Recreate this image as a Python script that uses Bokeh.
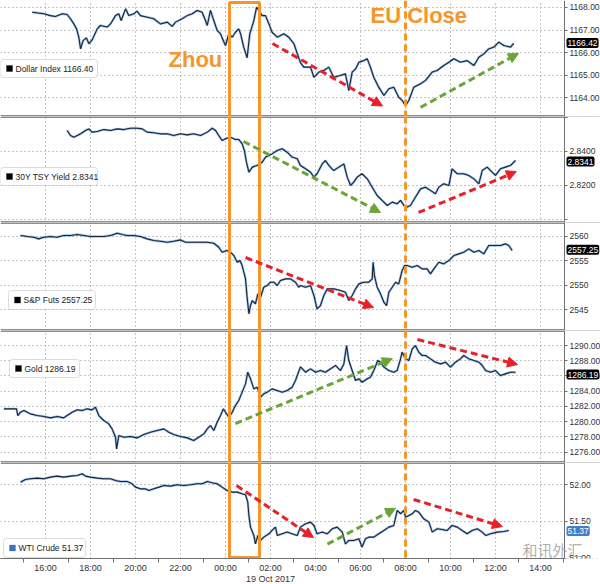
from bokeh.plotting import figure
from bokeh.layouts import column
from bokeh.models import (Range1d, FixedTicker, Span, Label, BoxAnnotation, Arrow,
                          NormalHead, NumeralTickFormatter, Grid)
from bokeh.embed import file_html
from bokeh.resources import INLINE

# ---------------- data (hours since 18 Oct 2017 00:00) ----------------
dxy_t = [15.41, 15.93, 16.22, 16.44, 16.74, 16.96, 17.11, 17.26, 17.38, 17.48, 17.56, 17.67, 17.82, 17.93,
         18.07, 18.30, 18.44, 18.74, 18.89, 19.11, 19.26, 19.36, 19.56, 19.70, 19.93, 20.07, 20.22, 20.52,
         20.81, 21.11, 21.41, 21.63, 21.78, 22.07, 22.30, 22.52, 22.74, 22.96, 23.11, 23.19, 23.33, 23.48,
         23.63, 23.78, 23.90, 24.00, 24.15, 24.30, 24.44, 24.59, 24.67, 24.81, 24.96, 25.08, 25.26, 25.38,
         25.48, 25.63, 25.78, 25.93, 26.07, 26.30, 26.59, 26.81, 27.04, 27.33, 27.48, 27.78, 27.93, 28.15,
         28.37, 28.59, 28.81, 29.11, 29.33, 29.48, 29.63, 29.78, 29.93, 30.15, 30.30, 30.44, 30.59, 30.81,
         31.04, 31.26, 31.48, 31.70, 31.85, 32.00, 32.15, 32.37, 32.67, 32.89, 33.19, 33.41, 33.70, 33.93,
         34.15, 34.44, 34.74, 35.04, 35.26, 35.48, 35.70, 35.93, 36.15, 36.37, 36.67, 36.81]
dxy_v = [1167.79, 1167.72, 1167.64, 1167.60, 1167.72, 1167.69, 1167.50, 1167.27, 1167.05, 1166.68, 1166.16,
         1166.53, 1166.65, 1166.39, 1166.56, 1167.05, 1167.20, 1167.13, 1167.27, 1167.64, 1167.72, 1167.42,
         1167.94, 1167.64, 1167.72, 1167.84, 1167.64, 1167.57, 1167.50, 1167.27, 1167.35, 1167.16, 1167.35,
         1167.50, 1167.64, 1167.72, 1167.87, 1167.79, 1167.42, 1167.20, 1167.87, 1167.42, 1166.98, 1166.83,
         1166.53, 1166.31, 1166.83, 1166.68, 1166.90, 1167.05, 1166.83, 1166.24, 1165.76, 1166.83, 1167.42,
         1168.01, 1167.87, 1167.64, 1167.64, 1167.27, 1166.90, 1166.68, 1166.83, 1166.68, 1166.39, 1165.55,
         1165.35, 1165.35, 1164.90, 1165.13, 1165.20, 1165.35, 1164.90, 1164.98, 1165.05, 1164.31, 1165.13,
         1165.27, 1165.57, 1165.64, 1165.72, 1165.35, 1164.90, 1164.46, 1164.09, 1164.39, 1164.46, 1164.01,
         1163.87, 1163.64, 1163.87, 1164.46, 1164.61, 1164.76, 1165.13, 1165.20, 1165.42, 1165.57, 1165.72,
         1165.57, 1165.64, 1165.42, 1165.79, 1165.94, 1166.16, 1166.24, 1166.46, 1166.31, 1166.24, 1166.41]

tsy_t = [16.96, 17.11, 17.26, 17.56, 17.78, 17.93, 18.07, 18.30, 18.59, 18.89, 19.19, 19.48, 19.78, 20.07,
         20.30, 20.52, 20.81, 21.11, 21.41, 21.70, 22.00, 22.30, 22.59, 22.89, 23.19, 23.41, 23.56, 23.70,
         23.85, 24.00, 24.22, 24.44, 24.59, 24.74, 24.84, 24.93, 25.04, 25.19, 25.41, 25.63, 25.78, 25.93,
         26.07, 26.30, 26.52, 26.74, 26.96, 27.19, 27.33, 27.56, 27.78, 27.93, 28.07, 28.30, 28.44, 28.59,
         28.81, 29.04, 29.26, 29.41, 29.56, 29.70, 29.85, 30.07, 30.30, 30.52, 30.74, 30.96, 31.19, 31.41,
         31.63, 31.78, 31.93, 32.07, 32.22, 32.44, 32.67, 32.89, 33.11, 33.33, 33.48, 33.70, 33.93, 34.07,
         34.30, 34.59, 34.81, 35.04, 35.26, 35.41, 35.63, 35.85, 36.00, 36.22, 36.44, 36.67, 36.89]
tsy_v = [2.8524, 2.8494, 2.8484, 2.8504, 2.8524, 2.8533, 2.8514, 2.8518, 2.8529, 2.8524, 2.8533, 2.8529,
         2.8537, 2.8537, 2.8533, 2.8514, 2.8510, 2.8504, 2.8504, 2.8494, 2.8504, 2.8498, 2.8504, 2.8494,
         2.8514, 2.8537, 2.8524, 2.8494, 2.8465, 2.8475, 2.8484, 2.8471, 2.8471, 2.8445, 2.8406, 2.8337,
         2.8278, 2.8308, 2.8318, 2.8337, 2.8367, 2.8376, 2.8386, 2.8406, 2.8416, 2.8396, 2.8367, 2.8357,
         2.8318, 2.8298, 2.8278, 2.8249, 2.8269, 2.8327, 2.8347, 2.8318, 2.8288, 2.8308, 2.8327, 2.8249,
         2.8200, 2.8220, 2.8249, 2.8269, 2.8239, 2.8190, 2.8141, 2.8112, 2.8082, 2.8102, 2.8092, 2.8112,
         2.8082, 2.8073, 2.8082, 2.8131, 2.8180, 2.8190, 2.8171, 2.8151, 2.8190, 2.8210, 2.8200, 2.8298,
         2.8269, 2.8269, 2.8259, 2.8239, 2.8210, 2.8288, 2.8308, 2.8278, 2.8259, 2.8298, 2.8308, 2.8318, 2.8347]

spx_t = [14.89, 15.19, 15.48, 15.70, 15.93, 16.22, 16.52, 16.81, 17.11, 17.41, 17.70, 18.00, 18.30, 18.59,
         18.89, 19.19, 19.41, 19.63, 19.93, 20.22, 20.52, 20.81, 21.11, 21.41, 21.70, 22.00, 22.22, 22.59,
         22.89, 23.19, 23.48, 23.70, 23.85, 24.07, 24.22, 24.37, 24.52, 24.64, 24.74, 24.89, 24.96, 25.04,
         25.11, 25.19, 25.33, 25.44, 25.56, 25.70, 25.85, 26.00, 26.15, 26.30, 26.44, 26.67, 26.89, 27.11,
         27.26, 27.33, 27.56, 27.78, 27.93, 28.07, 28.22, 28.37, 28.52, 28.81, 29.11, 29.33, 29.48, 29.63,
         29.78, 29.93, 30.15, 30.37, 30.52, 30.56, 30.62, 30.74, 30.89, 31.04, 31.16, 31.26, 31.41, 31.56,
         31.70, 31.85, 31.96, 32.07, 32.30, 32.52, 32.74, 32.96, 33.11, 33.26, 33.48, 33.70, 33.93, 34.15,
         34.37, 34.59, 34.81, 35.04, 35.26, 35.48, 35.70, 35.93, 36.22, 36.44, 36.59, 36.74]
spx_v = [2560.14, 2559.93, 2559.80, 2559.46, 2559.80, 2559.93, 2559.80, 2560.14, 2560.14, 2560.34, 2560.14,
         2559.93, 2559.93, 2559.93, 2560.14, 2560.61, 2560.34, 2560.14, 2560.14, 2559.93, 2559.46, 2559.12,
         2558.98, 2558.78, 2558.98, 2559.25, 2558.78, 2558.78, 2558.78, 2558.78, 2558.57, 2557.76, 2556.74,
         2557.08, 2556.74, 2556.06, 2554.70, 2555.04, 2554.03, 2551.31, 2547.58, 2544.18, 2545.88, 2546.90,
         2546.22, 2548.26, 2547.58, 2549.61, 2549.95, 2550.63, 2550.63, 2549.95, 2550.97, 2551.31, 2551.31,
         2550.63, 2549.61, 2549.95, 2549.61, 2549.95, 2547.92, 2545.20, 2545.88, 2547.92, 2549.27, 2549.27,
         2548.93, 2548.59, 2546.90, 2547.92, 2549.27, 2550.29, 2550.63, 2550.63, 2551.31, 2554.70, 2551.99,
         2549.61, 2548.26, 2546.56, 2545.88, 2548.59, 2549.61, 2550.63, 2550.29, 2553.01, 2554.03, 2554.03,
         2553.69, 2554.03, 2553.35, 2553.35, 2552.33, 2553.35, 2554.70, 2554.37, 2555.04, 2556.06, 2556.40,
         2556.74, 2557.42, 2556.74, 2557.08, 2556.40, 2558.10, 2558.10, 2558.10, 2558.44, 2558.10, 2557.08]

gold_t = [14.15, 14.71, 14.77, 14.89, 15.04, 15.19, 15.33, 15.63, 15.93, 16.22, 16.52, 16.81, 16.96, 17.19,
          17.41, 17.63, 17.85, 18.07, 18.22, 18.37, 18.59, 18.81, 18.96, 19.11, 19.16, 19.26, 19.48, 19.78,
          20.07, 20.37, 20.67, 20.96, 21.26, 21.48, 21.70, 22.00, 22.30, 22.59, 22.81, 23.04, 23.19, 23.33,
          23.48, 23.63, 23.78, 23.90, 24.00, 24.15, 24.30, 24.44, 24.59, 24.74, 24.89, 24.99, 25.11, 25.26,
          25.41, 25.56, 25.70, 25.85, 26.07, 26.30, 26.52, 26.74, 26.96, 27.11, 27.33, 27.56, 27.78, 28.00,
          28.22, 28.44, 28.67, 28.89, 29.11, 29.26, 29.38, 29.48, 29.63, 29.78, 29.93, 30.07, 30.30, 30.44,
          30.59, 30.77, 30.89, 31.04, 31.26, 31.48, 31.63, 31.78, 31.85, 32.00, 32.15, 32.30, 32.44, 32.59,
          32.74, 32.89, 33.11, 33.33, 33.56, 33.78, 34.00, 34.22, 34.44, 34.59, 34.81, 35.04, 35.26, 35.41,
          35.56, 35.78, 36.00, 36.22, 36.44, 36.67, 36.89]
gold_v = [1281.69, 1281.69, 1280.81, 1281.25, 1281.47, 1281.25, 1281.03, 1280.81, 1280.68, 1280.51, 1280.68,
          1280.51, 1280.81, 1281.25, 1281.56, 1281.47, 1281.69, 1281.56, 1281.91, 1280.81, 1280.16, 1279.72,
          1279.06, 1277.97, 1276.44, 1278.19, 1277.97, 1278.06, 1277.88, 1278.32, 1278.63, 1278.85, 1279.06,
          1278.63, 1278.32, 1278.06, 1277.88, 1277.53, 1277.97, 1278.41, 1279.06, 1279.50, 1278.85, 1279.94,
          1280.81, 1281.69, 1281.25, 1280.60, 1281.25, 1282.13, 1282.78, 1283.88, 1284.97, 1286.50, 1285.63,
          1284.31, 1284.53, 1283.22, 1283.66, 1283.88, 1284.31, 1284.09, 1283.88, 1284.09, 1284.53, 1285.41,
          1287.20, 1286.50, 1286.94, 1286.50, 1286.72, 1286.50, 1286.94, 1287.38, 1286.72, 1287.59, 1290.00,
          1288.03, 1286.72, 1285.41, 1285.63, 1285.19, 1285.63, 1285.84, 1286.72, 1288.03, 1287.81, 1287.16,
          1286.72, 1286.50, 1286.72, 1288.25, 1289.13, 1288.25, 1288.03, 1289.56, 1290.00, 1289.13, 1288.69,
          1288.69, 1288.25, 1287.81, 1287.59, 1287.81, 1287.16, 1287.81, 1288.25, 1288.69, 1288.25, 1288.03,
          1287.81, 1287.38, 1286.72, 1286.50, 1286.72, 1286.06, 1286.28, 1286.50, 1286.50]

wti_t = [14.89, 15.11, 15.33, 15.63, 15.93, 16.22, 16.52, 16.81, 17.11, 17.41, 17.63, 17.78, 18.00, 18.30,
         18.59, 18.89, 19.11, 19.33, 19.63, 19.85, 20.00, 20.22, 20.44, 20.59, 20.81, 21.04, 21.26, 21.56,
         21.85, 22.15, 22.44, 22.74, 22.96, 23.19, 23.41, 23.63, 23.85, 24.07, 24.30, 24.52, 24.74, 24.89,
         24.99, 25.04, 25.11, 25.26, 25.33, 25.44, 25.56, 25.70, 25.93, 26.07, 26.22, 26.30, 26.52, 26.74,
         26.96, 27.19, 27.33, 27.56, 27.78, 27.93, 28.07, 28.30, 28.52, 28.74, 28.96, 29.19, 29.33, 29.48,
         29.70, 29.93, 30.07, 30.22, 30.37, 30.59, 30.81, 31.04, 31.26, 31.48, 31.63, 31.78, 31.93, 32.00,
         32.15, 32.30, 32.44, 32.59, 32.81, 33.04, 33.19, 33.41, 33.63, 33.85, 34.07, 34.30, 34.52, 34.74,
         34.96, 35.19, 35.41, 35.56, 35.78, 36.07, 36.37, 36.59]
wti_v = [52.036, 52.073, 52.082, 52.091, 52.082, 52.105, 52.118, 52.105, 52.118, 52.127, 52.150, 52.118,
         52.105, 52.091, 52.082, 52.082, 52.059, 52.045, 52.045, 52.014, 51.968, 51.945, 51.945, 51.923,
         51.945, 51.968, 51.991, 51.982, 52.000, 51.991, 52.000, 52.014, 52.014, 52.045, 52.027, 52.014,
         51.968, 51.923, 51.900, 51.900, 51.877, 51.864, 51.764, 51.582, 51.423, 51.309, 51.195, 51.309,
         51.241, 51.286, 51.332, 51.377, 51.423, 51.309, 51.332, 51.355, 51.332, 51.309, 51.423, 51.468,
         51.491, 51.445, 51.332, 51.355, 51.332, 51.400, 51.423, 51.355, 51.195, 51.241, 51.241, 51.264,
         51.150, 51.264, 51.286, 51.286, 51.332, 51.377, 51.423, 51.445, 51.650, 51.605, 51.650, 51.559,
         51.582, 51.605, 51.650, 51.627, 51.536, 51.491, 51.355, 51.400, 51.391, 51.377, 51.445, 51.423,
         51.377, 51.332, 51.377, 51.400, 51.355, 51.309, 51.332, 51.355, 51.364, 51.377]

series_names = ["Dollar Index", "30Y TSY Yield", "S&P Futs", "Gold", "WTI Crude"]
legend_values = ["1166.40", "2.8341", "2557.25", "1286.19", "51.37"]
last_values = [1166.42, 2.8341, 2557.25, 1286.19, 51.37]
last_labels = ["1166.42", "2.8341", "2557.25", "1286.19", "51.37"]

x_tick_hours = [16, 18, 20, 22, 24, 26, 28, 30, 32, 34, 36, 38]
x_tick_labels = ["16:00", "18:00", "20:00", "22:00", "00:00", "02:00\n19 Oct 2017", "04:00", "06:00",
                 "08:00", "10:00", "12:00", "14:00"]
x_minor_hours = [15, 17, 19, 21, 23, 25, 27, 29, 31, 33, 35, 37, 39]

# ---------------- layout constants ----------------
FW = 600
PXH = 22.5
X0 = 14.0
X1 = X0 + FW / PXH
AX = X0 + 564 / PXH        # position of the value axis

ORANGE = "#f5952a"
RED = "#e8202a"
GREEN = "#6aa536"
FONT = "Liberation Sans"

P = [
    dict(t=dxy_t, v=dxy_v, y0=1163.156, y1=1168.311, top=0, fh=116,
         ticks=[1164, 1165, 1166, 1167, 1168], fmt="0.00", over={},
         leg=(0, 97, 59, 77), sq="black", tag="black"),
    dict(t=tsy_t, v=tsy_v, y0=2.7982, y1=2.8606, top=116, fh=106,
         ticks=[2.80, 2.82, 2.84, 2.86], fmt="0.0000", over={2.8: "", 2.86: ""},
         leg=(0, 97, 167, 185), sq="black", tag="black"),
    dict(t=spx_t, v=spx_v, y0=2540.80, y1=2562.79, top=222, fh=108,
         ticks=[2545, 2550, 2555, 2560], fmt="0", over={},
         leg=(8, 95, 290, 309), sq="black", tag="black"),
    dict(t=gold_t, v=gold_v, y0=1274.65, y1=1291.97, top=330, fh=132,
         ticks=[1276, 1278, 1280, 1282, 1284, 1286, 1288, 1290], fmt="0.00", over={},
         leg=(9, 79, 359, 377), sq="black", tag="black"),
    dict(t=wti_t, v=wti_v, y0=50.995, y1=52.304, top=462, fh=96,
         ticks=[51, 51.5, 52], fmt="0.00", over={},
         leg=(3, 85, 538, 557), sq="#3b73b9", tag="#3f7fc7"),
]


def xd(px):
    return X0 + px / PXH


def yd(k, py):
    c = P[k]
    return c["y1"] - (py - c["top"]) / c["fh"] * (c["y1"] - c["y0"])


ZL, ZR = xd(229), xd(259)
EU = 32.0

arrows = {
    0: [(26.09, 1166.40, 30.98, 1163.62, RED), (32.67, 1163.56, 37.02, 1165.96, GREEN)],
    1: [(24.80, 2.8459, 30.89, 2.8041, GREEN), (32.58, 2.8041, 36.93, 2.8282, RED)],
    2: [(24.89, 2555.66, 30.58, 2545.48, RED)],
    3: [(24.44, 1279.76, 31.42, 1288.29, GREEN), (32.53, 1290.79, 36.98, 1287.51, RED)],
    4: [(24.49, 51.99, 27.91, 51.28, RED), (28.53, 51.19, 31.56, 51.68, GREEN),
        (32.36, 51.80, 36.31, 51.43, RED)],
}

figs = []
for k, c in enumerate(P):
    bottom = (k == 4)
    p = figure(frame_width=FW, frame_height=c["fh"],
               x_range=Range1d(X0, X1), y_range=Range1d(c["y0"], c["y1"]),
               x_axis_location="below" if bottom else None, y_axis_location="right",
               toolbar_location=None, output_backend="svg",
               min_border_left=0, min_border_top=0, min_border_right=0,
               min_border_bottom=26 if bottom else 0)
    p.outline_line_color = None
    for g in p.grid:
        g.visible = False
    p.add_layout(Grid(dimension=0, ticker=FixedTicker(ticks=x_tick_hours),
                      grid_line_color="#8a8a8a", grid_line_dash="1 3", grid_line_width=1))
    p.add_layout(Grid(dimension=1, ticker=FixedTicker(ticks=c["ticks"]),
                      grid_line_color="#8a8a8a", grid_line_dash="1 3", grid_line_width=1))

    # panel separators
    if k < 4:
        p.add_layout(Span(location=c["y0"], dimension="width", line_color="#8c8c8c",
                          line_width=3, level="underlay"))
    if k > 0:
        p.add_layout(Span(location=c["y1"], dimension="width", line_color="#8c8c8c",
                          line_width=3, level="underlay"))
    # blank area right of the value axis
    p.add_layout(BoxAnnotation(left=AX, fill_color="white", fill_alpha=1, line_color=None,
                               level="underlay"))

    ya = p.yaxis[0]
    ya.fixed_location = AX
    ya.ticker = FixedTicker(ticks=c["ticks"])
    ya.formatter = NumeralTickFormatter(format=c["fmt"])
    if c["over"]:
        ya.major_label_overrides = c["over"]
    ya.major_label_text_font = FONT
    ya.major_label_text_font_size = "8.5px"
    ya.major_label_text_color = "#333333"
    ya.major_label_standoff = 2
    ya.major_tick_out = 3
    ya.major_tick_in = 0
    ya.minor_tick_line_color = None
    ya.axis_line_color = "#707070"
    ya.major_tick_line_color = "#707070"

    if bottom:
        xa = p.xaxis[0]
        xa.bounds = (X0, AX)
        xa.ticker = FixedTicker(ticks=x_tick_hours, minor_ticks=x_minor_hours)
        xa.major_label_overrides = dict(zip(x_tick_hours, x_tick_labels))
        xa.major_tick_line_color = None
        xa.major_tick_out = 0
        xa.major_tick_in = 0
        xa.minor_tick_out = 4
        xa.minor_tick_in = 0
        xa.minor_tick_line_color = "#707070"
        xa.axis_line_color = "#707070"
        xa.major_label_standoff = 0
        xa.major_label_text_font = FONT
        xa.major_label_text_font_size = "9px"
        xa.major_label_text_color = "#333333"
        xa.major_label_text_line_height = 1.1

    # series line
    p.line(c["t"], c["v"], line_color="#4a8ad0", line_width=2.4, line_alpha=0.55)
    p.line(c["t"], c["v"], line_color="#15273e", line_width=1.1)

    # Zhou box
    top = yd(0, 2) if k == 0 else c["y1"] + 100 * (c["y1"] - c["y0"])
    bot = yd(4, 557) if k == 4 else c["y0"] - 100 * (c["y1"] - c["y0"])
    p.quad(left=[ZL], right=[ZR], top=[top], bottom=[bot], fill_color=None,
           line_color=ORANGE, line_width=3)

    # EU close line
    p.add_layout(Span(location=EU, dimension="height", line_color=ORANGE,
                      line_width=3, line_dash="7 4"))

    # arrows
    for (xs, ys, xe, ye, col) in arrows[k]:
        p.add_layout(Arrow(end=NormalHead(size=10, fill_color=col, line_color=col),
                           x_start=xs, y_start=ys, x_end=xe, y_end=ye,
                           line_color=col, line_width=3, line_dash="7 4"))

    # legend box
    lx0, lx1, ly0, ly1 = c["leg"]
    cy = (ly0 + ly1) / 2
    p.add_layout(BoxAnnotation(left=xd(lx0), right=xd(lx1), top=yd(k, ly0), bottom=yd(k, ly1),
                               fill_color="white", fill_alpha=1, line_color="#8c8c8c",
                               line_width=1, border_radius=3))
    p.add_layout(BoxAnnotation(left=xd(lx0 + 6), right=xd(lx0 + 12), top=yd(k, cy - 3),
                               bottom=yd(k, cy + 3), fill_color=c["sq"], fill_alpha=1,
                               line_color=c["sq"]))
    p.add_layout(Label(x=xd(lx0 + 15), y=yd(k, cy), text=f"{series_names[k]} {legend_values[k]}",
                       text_baseline="middle", text_font=FONT, text_font_size="8.5px",
                       text_color="#222222"))

    # last value tag
    p.add_layout(Label(x=AX, y=last_values[k], x_offset=2, text=last_labels[k],
                       text_baseline="middle", text_font=FONT, text_font_size="8.5px",
                       text_color="white", background_fill_color=c["tag"],
                       padding=(1, 2), border_radius=2))

    if k == 0:
        p.add_layout(Label(x=xd(168), y=yd(0, 58.5), text="Zhou", text_baseline="middle",
                           text_font=FONT, text_font_size="22px", text_font_style="bold",
                           text_color=ORANGE))
        p.add_layout(Label(x=xd(370), y=yd(0, 14.5), text="EU Close", text_baseline="middle",
                           text_font=FONT, text_font_size="22px", text_font_style="bold",
                           text_color=ORANGE))
    if k == 4:
        p.add_layout(Label(x=xd(522), y=yd(4, 549), text="和讯外汇", text_baseline="middle",
                           text_font="Noto Sans CJK SC", text_font_size="15px",
                           text_color="#9a9a9a", text_alpha=0.8))
    figs.append(p)

layout = column(*figs, spacing=0)
open("out.html", "w").write(file_html(layout, INLINE))
